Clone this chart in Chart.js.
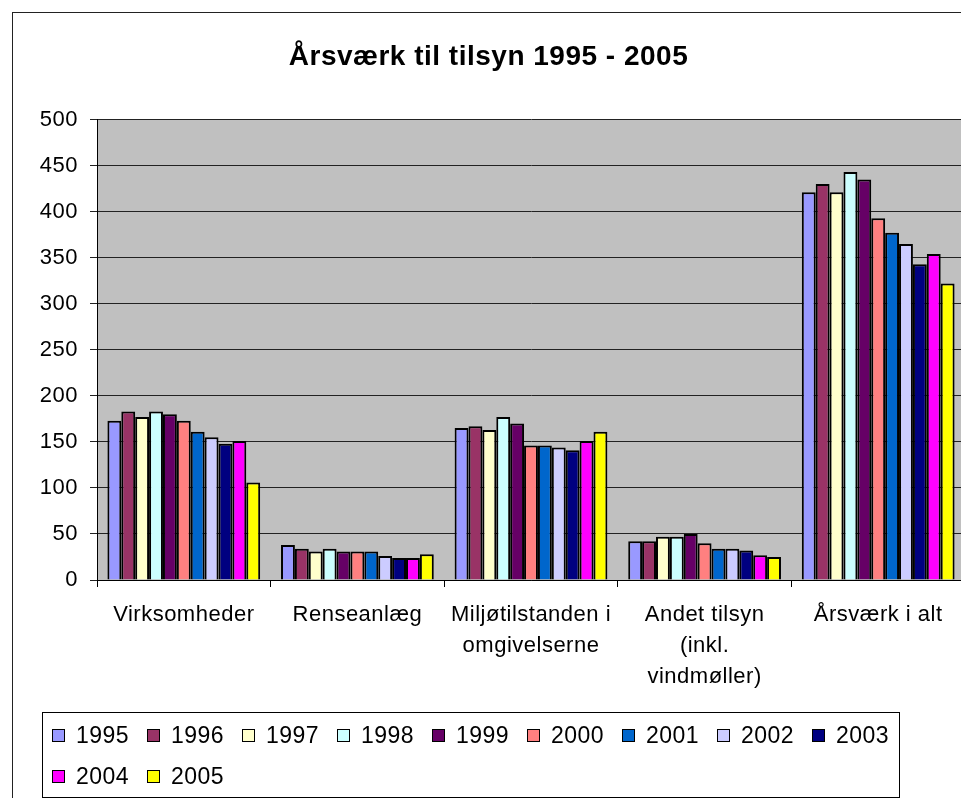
<!DOCTYPE html>
<html lang="da">
<head>
<meta charset="utf-8">
<title>Årsværk til tilsyn 1995 - 2005</title>
<script src="https://cdn.jsdelivr.net/npm/chart.js@4.4.1/dist/chart.umd.min.js"></script>
<style>
    html, body {
        margin: 0;
        padding: 0;
        background: #fff;
        overflow: hidden;
        width: 961px;
        height: 798px;
    }
    #frame {
        position: absolute;
        left: 12px;
        top: 12px;
        width: 962px;
        height: 820px;
        border: 1px solid #222;
        box-sizing: border-box;
    }
    #chart {
        position: absolute;
        left: 0;
        top: 0;
    }
    #legend {
        position: absolute;
        left: 42px;
        top: 712px;
        width: 858px;
        height: 86px;
        border: 1px solid #000;
        box-sizing: border-box;
        padding: 2px 0 0 9px;
        font: 23px "Liberation Sans", Arial, sans-serif;
        letter-spacing: 0.5px;
        color: #000;
    }
    .row {
        display: flex;
        height: 41px;
    }
    .item {
        display: flex;
        align-items: center;
        width: 95px;
        flex: none;
        white-space: nowrap;
    }
    .swatch {
        width: 13px;
        height: 13px;
        border: 1px solid #000;
        box-sizing: border-box;
        margin-right: 11px;
    }
</style>
</head>
<body>
<canvas id="chart" width="1000" height="700"></canvas>
<div id="frame"></div>
<div id="legend"></div>

<script>
// Categories on the x axis (multi-line labels as arrays)
const categories = [
    'Virksomheder',
    'Renseanlæg',
    ['Miljøtilstanden i', 'omgivelserne'],
    ['Andet tilsyn', '(inkl.', 'vindmøller)'],
    'Årsværk i alt'
];

const years = ['1995', '1996', '1997', '1998', '1999', '2000', '2001', '2002', '2003', '2004', '2005'];

// Årsværk per category, one array per year
const v1995 = [173, 38, 165, 42, 421];
const v1996 = [183, 34, 167, 42, 430];
const v1997 = [177, 31, 163, 47, 421];
const v1998 = [183, 34, 177, 47, 443];
const v1999 = [180, 31, 170, 50, 435];
const v2000 = [173, 31, 146, 40, 393];
const v2001 = [161, 31, 146, 34, 377];
const v2002 = [155, 26, 144, 34, 365];
const v2003 = [148, 24, 141, 32, 343];
const v2004 = [151, 24, 151, 27, 354];
const v2005 = [106, 28, 161, 25, 322];

const series = [v1995, v1996, v1997, v1998, v1999, v2000, v2001, v2002, v2003, v2004, v2005];

const barColors = [
    '#9999FF', '#993366', '#FFFFCC', '#CCFFFF', '#660066', '#FF8080',
    '#0066CC', '#CCCCFF', '#000080', '#FF00FF', '#FFFF00'
];

const FONT = '"Liberation Sans", Arial, sans-serif';
const LEGEND_PER_ROW = 9;

// Gray plot area behind the grid
const plotBackground = {
    id: 'plotBackground',
    beforeDraw(chart) {
        const { ctx, chartArea } = chart;
        ctx.save();
        ctx.fillStyle = '#C0C0C0';
        ctx.fillRect(chartArea.left, chartArea.top, chartArea.right - chartArea.left, chartArea.bottom - chartArea.top);
        ctx.restore();
    }
};

// A touch of extra spacing between letters on the canvas labels
const textSpacing = {
    id: 'textSpacing',
    beforeUpdate(chart) {
        chart.ctx.letterSpacing = '0.5px';
    },
    beforeDraw(chart) {
        chart.ctx.letterSpacing = '0.5px';
    }
};

const chart = new Chart(document.getElementById('chart'), {
    type: 'bar',
    data: {
        labels: categories,
        datasets: years.map((year, i) => ({
            label: year,
            data: series[i],
            backgroundColor: barColors[i],
            borderColor: '#000',
            borderWidth: 2,
            categoryPercentage: 0.88,
            barPercentage: 1
        }))
    },
    options: {
        responsive: false,
        animation: false,
        devicePixelRatio: 1,
        layout: {
            padding: { left: 12, right: 35, top: 0, bottom: 0 }
        },
        plugins: {
            legend: { display: false },
            tooltip: { enabled: false },
            title: {
                display: true,
                text: 'Årsværk til tilsyn 1995 - 2005',
                color: '#000',
                font: { family: FONT, size: 28, weight: 'bold', lineHeight: 1.2 },
                padding: { top: 40, bottom: 46 }
            }
        },
        scales: {
            x: {
                afterFit(scale) { scale.height = 120; },
                grid: {
                    display: true,
                    drawOnChartArea: false,
                    drawTicks: true,
                    tickLength: 7,
                    color: '#000'
                },
                border: { color: '#000', width: 1 },
                ticks: {
                    color: '#000',
                    padding: 12,
                    maxRotation: 0,
                    autoSkip: false,
                    font: { family: FONT, size: 22, lineHeight: 1.41 }
                }
            },
            y: {
                min: 0,
                max: 500,
                afterFit(scale) { scale.width = 85; },
                grid: {
                    color: '#222',
                    lineWidth: 1,
                    drawTicks: true,
                    tickLength: 7
                },
                border: { color: '#000', width: 1 },
                ticks: {
                    stepSize: 50,
                    color: '#000',
                    padding: 12,
                    font: { family: FONT, size: 22 }
                }
            }
        }
    },
    plugins: [plotBackground, textSpacing]
});

// Boxed legend below the chart, built from the chart's datasets
const legendEl = document.getElementById('legend');
let row = null;
chart.data.datasets.forEach((ds, i) => {
    if (i % LEGEND_PER_ROW === 0) {
        row = document.createElement('div');
        row.className = 'row';
        legendEl.appendChild(row);
    }
    const item = document.createElement('div');
    item.className = 'item';
    const swatch = document.createElement('span');
    swatch.className = 'swatch';
    swatch.style.background = ds.backgroundColor;
    const text = document.createElement('span');
    text.textContent = ds.label;
    item.appendChild(swatch);
    item.appendChild(text);
    row.appendChild(item);
});
</script>
</body>
</html>
